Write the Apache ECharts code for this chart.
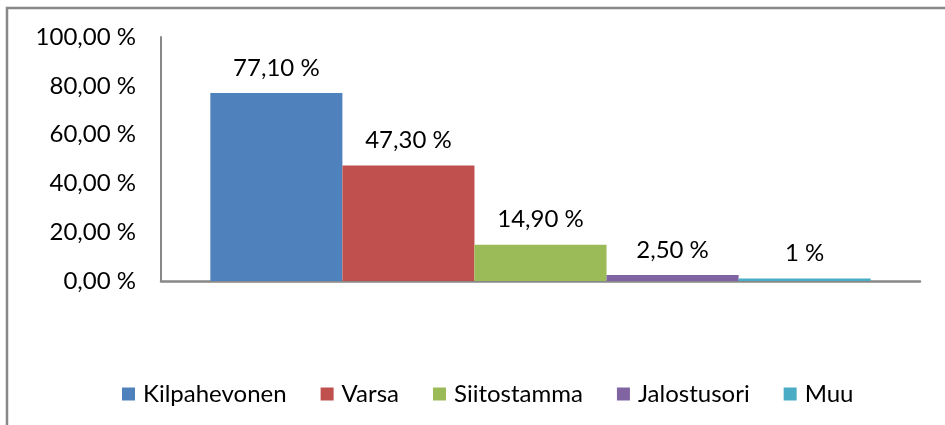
<!DOCTYPE html>
<html>
<head>
<meta charset="utf-8">
<script src="https://cdn.jsdelivr.net/npm/echarts@6/dist/echarts.min.js"></script>
<style>
html,body{margin:0;padding:0;background:#fff;}
#chart{width:945px;height:425px;}
</style>
</head>
<body>
<div id="chart"></div>
<script>
var categories = [''];
var seriesNames = ['Kilpahevonen', 'Varsa', 'Siitostamma', 'Jalostusori', 'Muu'];
var seriesValues = [77.1, 47.3, 14.9, 2.5, 1];
var dataLabels = ['77,10 %', '47,30 %', '14,90 %', '2,50 %', '1 %'];
var colors = ['#4F81BD', '#C0504D', '#9BBB59', '#8064A2', '#4BACC6'];
var yTicks = [0, 20, 40, 60, 80, 100];

var FONT = 'Lato';
var FS = 24;
var chart = echarts.init(document.getElementById('chart'), null, {renderer: 'canvas'});

var series = seriesNames.map(function (name, i) {
  return {
    name: name,
    type: 'bar',
    data: [seriesValues[i]],
    itemStyle: {color: colors[i]},
    barGap: '0%',
    barCategoryGap: '13%',
    label: {
      show: true,
      position: 'top',
      distance: 13,
      formatter: function () { return dataLabels[i]; },
      color: '#000',
      fontFamily: FONT,
      fontSize: FS
    }
  };
});

chart.setOption({
  animation: false,
  backgroundColor: '#fff',
  graphic: [{
    type: 'polyline',
    shape: {points: [[7, 430], [7, 8], [950, 8]]},
    style: {stroke: '#888', lineWidth: 2.5, fill: null}
  }],
  grid: {left: 161, right: 25, top: 37, bottom: 144, containLabel: false},
  legend: {
    data: seriesNames,
    top: 377,
    left: 117,
    itemWidth: 13,
    itemHeight: 13,
    itemGap: 34,
    icon: 'rect',
    textStyle: {fontFamily: FONT, fontSize: FS, color: '#000', padding: [0, 0, 0, 3]}
  },
  xAxis: {
    type: 'category',
    data: categories,
    axisLine: {show: true, lineStyle: {color: '#888', width: 2.5}},
    axisTick: {show: false},
    axisLabel: {show: false},
    splitLine: {show: false}
  },
  yAxis: {
    type: 'value',
    min: yTicks[0],
    max: yTicks[yTicks.length - 1],
    interval: 20,
    axisLine: {show: true, lineStyle: {color: '#888', width: 2}},
    axisTick: {show: false},
    splitLine: {show: false},
    axisLabel: {
      margin: 25,
      fontFamily: FONT,
      fontSize: FS,
      color: '#000',
      formatter: function (v) { return v.toFixed(2).replace('.', ',') + ' %'; }
    }
  },
  series: series
});
</script>
</body>
</html>
